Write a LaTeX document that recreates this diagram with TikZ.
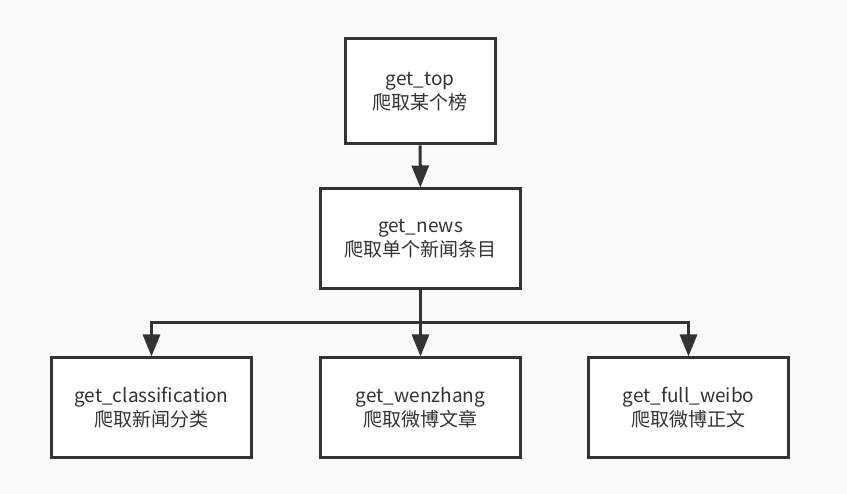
\documentclass[tikz,border=0pt]{standalone}
\usepackage{fontspec}
\setmainfont{Noto Sans CJK SC}
\usetikzlibrary{arrows.meta}
\definecolor{linegray}{HTML}{333333}
\definecolor{bggray}{HTML}{F9F9F9}
\tikzset{
  funcbox/.style={draw=linegray, line width=3pt, fill=white, text=linegray,
    minimum width=200pt, minimum height=100pt, align=center,
    font=\fontsize{19}{24}\selectfont, inner sep=0pt},
  arr/.style={draw=linegray, line width=3pt, -{Triangle[length=22pt,width=17pt]}}
}
\begin{document}
\begin{tikzpicture}[x=1pt,y=-1pt]
      \fill[bggray] (0,0) rectangle (847,494);
      \useasboundingbox (0,0) rectangle (847,494);
      \node[funcbox, minimum width=150pt, minimum height=105pt] (top) at (420,91.5) {get\_top\\爬取某个榜};
      \node[funcbox] (news) at (420.5,239) {get\_news\\爬取单个新闻条目};
      \node[funcbox] (class) at (151.5,408) {get\_classification\\爬取新闻分类};
      \node[funcbox] (wenzhang) at (420.5,408) {get\_wenzhang\\爬取微博文章};
      \node[funcbox] (weibo) at (688.5,408) {get\_full\_weibo\\爬取微博正文};
      \coordinate (split) at (420.5,323);
      \begin{scope}[line join=miter]
        \draw[arr] (top) -- (news);
        \draw[arr] (news) -- (wenzhang);
        \draw[arr] (split) -| (class.north);
        \draw[arr] (split) -| (weibo.north);
      \end{scope}
    \end{tikzpicture}
\end{document}
